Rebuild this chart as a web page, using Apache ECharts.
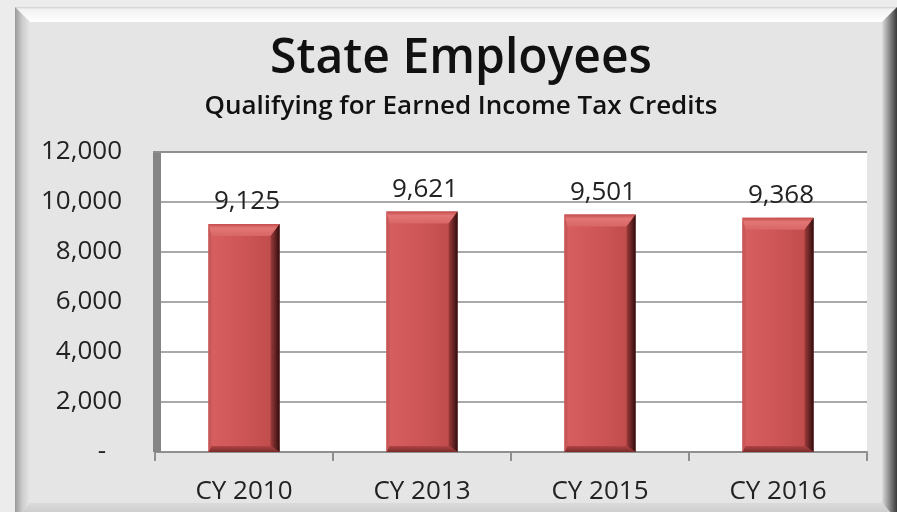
<!DOCTYPE html>
<html>
<head>
<meta charset="utf-8">
<script src="https://cdn.jsdelivr.net/npm/echarts@6/dist/echarts.min.js"></script>
<style>
  html, body { margin: 0; padding: 0; background: #ececec; }
  #chart { width: 897px; height: 512px; }
</style>
</head>
<body>
<div id="chart"></div>
<script>
// Chart data
const categories = ['CY 2010', 'CY 2013', 'CY 2015', 'CY 2016'];
const employees = [9125, 9621, 9501, 9368];
const yTicks = { min: 0, max: 12000, interval: 2000 };

const FONT = '"Open Sans"';
const LABEL_SIZE = 26;
const fmt = v => v.toLocaleString('en-US');

const chart = echarts.init(document.getElementById('chart'), null, { renderer: 'canvas' });

// Bevelled picture frame around the chart
const OX0 = 15, OY0 = 7, OX1 = 897, OY1 = 520;
const IX0 = 30, IY0 = 22, IX1 = 882, IY1 = 503;
const lin = (x0, y0, x1, y1, stops) => new echarts.graphic.LinearGradient(x0, y0, x1, y1, stops);

const frame = [
  { type: 'rect', z: -10, shape: { x: 0, y: 0, width: 897, height: 512 }, style: { fill: '#ececec' } },
  { type: 'rect', z: -9, shape: { x: IX0, y: IY0, width: IX1 - IX0, height: IY1 - IY0 }, style: { fill: '#e5e5e5' } },
  { type: 'polygon', z: -9, shape: { points: [[OX0, OY0], [OX1, OY0], [IX1, IY0], [IX0, IY0]] },
    style: { fill: lin(0, 0, 0, 1, [{ offset: 0, color: '#cfcfcf' }, { offset: 0.15, color: '#f2f2f2' }, { offset: 1, color: '#ffffff' }]) } },
  { type: 'polygon', z: -9, shape: { points: [[OX0, OY0], [IX0, IY0], [IX0, IY1], [OX0, OY1]] },
    style: { fill: lin(0, 0, 1, 0, [{ offset: 0, color: '#9a9a9a' }, { offset: 0.5, color: '#cdcdcd' }, { offset: 1, color: '#e6e6e6' }]) } },
  { type: 'polygon', z: -9, shape: { points: [[OX1, OY0], [OX1, OY1], [IX1, IY1], [IX1, IY0]] },
    style: { fill: lin(0, 0, 1, 0, [{ offset: 0, color: '#dcdcdc' }, { offset: 0.5, color: '#8a8a8a' }, { offset: 1, color: '#3a3a3a' }]) } },
  { type: 'polygon', z: -9, shape: { points: [[IX0, IY1], [IX1, IY1], [OX1, OY1], [OX0, OY1]] },
    style: { fill: lin(0, 0, 0, 1, [{ offset: 0, color: '#dadada' }, { offset: 1, color: '#c4c4c4' }]) } },
  // Side wall and top edge of the plot area
  { type: 'rect', z: 1, shape: { x: 153, y: 151, width: 8, height: 301 }, style: { fill: '#858585' } },
  { type: 'line', z: 1, shape: { x1: 153, y1: 152, x2: 867, y2: 152 }, style: { stroke: '#8f8f8f', lineWidth: 2 } }
];

// Bevelled bar drawn from the value scale
function renderBar(params, api) {
  const i = api.value(0);
  const v = api.value(1);
  const top = api.coord([i, v]);
  const base = api.coord([i, 0]);
  const w = api.size([1, 0])[0] * 0.4;
  const x0 = top[0] - w / 2, x1 = top[0] + w / 2;
  const y0 = top[1], y1 = base[1];
  const tb = 12, rb = 9, lb = 3, bb = 6;
  return {
    type: 'group',
    children: [
      { type: 'rect', shape: { x: x0, y: y0, width: w, height: y1 - y0 },
        style: { fill: lin(0, 0, 1, 0, [
          { offset: 0, color: '#d35c5c' }, { offset: 0.06, color: '#d65e5e' },
          { offset: 0.5, color: '#cd5555' }, { offset: 0.86, color: '#c24d4d' }, { offset: 1, color: '#b04545' }]) } },
      // top facet
      { type: 'polygon', shape: { points: [[x0, y0], [x1, y0], [x1 - rb, y0 + tb], [x0 + lb, y0 + tb]] },
        style: { fill: lin(0, 0, 0, 1, [{ offset: 0, color: '#c44c4c' }, { offset: 0.35, color: '#e37676' }, { offset: 1, color: '#d86666' }]) } },
      // right facet
      { type: 'polygon', shape: { points: [[x1, y0], [x1, y1], [x1 - rb, y1 - bb], [x1 - rb, y0 + tb]] },
        style: { fill: lin(0, 0, 1, 0, [{ offset: 0, color: '#9c3a3a' }, { offset: 0.6, color: '#5e2020' }, { offset: 1, color: '#2e0c0c' }]) } },
      // bottom facet
      { type: 'polygon', shape: { points: [[x0, y1], [x1, y1], [x1 - rb, y1 - bb], [x0 + lb, y1 - bb]] },
        style: { fill: lin(0, 0, 0, 1, [{ offset: 0, color: '#b04444' }, { offset: 1, color: '#7a2a2a' }]) } },
      // left facet
      { type: 'polygon', shape: { points: [[x0, y0], [x0 + lb, y0 + tb], [x0 + lb, y1 - bb], [x0, y1]] },
        style: { fill: '#c85858' } },
      // value label
      { type: 'text', style: { x: top[0] + 3, y: y0 - 9, text: fmt(v), fill: '#222', font: LABEL_SIZE + 'px ' + FONT,
        textAlign: 'center', textVerticalAlign: 'bottom' } }
    ]
  };
}

chart.setOption({
  animation: false,
  backgroundColor: 'transparent',
  textStyle: { fontFamily: FONT },
  title: [
    { text: 'State Employees', left: 456, top: 30, textAlign: 'center',
      textStyle: { fontFamily: FONT, fontSize: 48, fontWeight: 600, color: '#111' } },
    { text: 'Qualifying for Earned Income Tax Credits', left: 456, top: 89, textAlign: 'center',
      textStyle: { fontFamily: FONT, fontSize: 26, fontWeight: 600, color: '#111' } }
  ],
  grid: { left: 155, right: 30, top: 152, bottom: 60, show: true, backgroundColor: '#ffffff', borderWidth: 0 },
  xAxis: {
    type: 'category', data: categories, boundaryGap: true,
    axisLine: { show: true, lineStyle: { color: '#8f8f8f', width: 2 } },
    axisTick: { show: true, alignWithLabel: false, length: 9, lineStyle: { color: '#8f8f8f', width: 2 } },
    axisLabel: { fontFamily: FONT, fontSize: LABEL_SIZE, color: '#222', margin: 27 },
    splitLine: { show: false }
  },
  yAxis: {
    type: 'value', min: yTicks.min, max: yTicks.max, interval: yTicks.interval,
    axisLine: { show: false }, axisTick: { show: false },
    axisLabel: {
      fontFamily: FONT, fontSize: LABEL_SIZE, color: '#222', margin: 33,
      formatter: v => v === 0 ? '{dash|-}' : fmt(v),
      rich: { dash: { fontFamily: FONT, fontSize: LABEL_SIZE, color: '#222', padding: [0, 16, 0, 0] } }
    },
    splitLine: { show: true, lineStyle: { color: '#8c8c8c', width: 1.5 } }
  },
  graphic: frame,
  series: [{
    type: 'custom', z: 5,
    renderItem: renderBar,
    encode: { x: 0, y: 1 },
    data: employees.map((v, i) => [i, v])
  }]
});
</script>
</body>
</html>
